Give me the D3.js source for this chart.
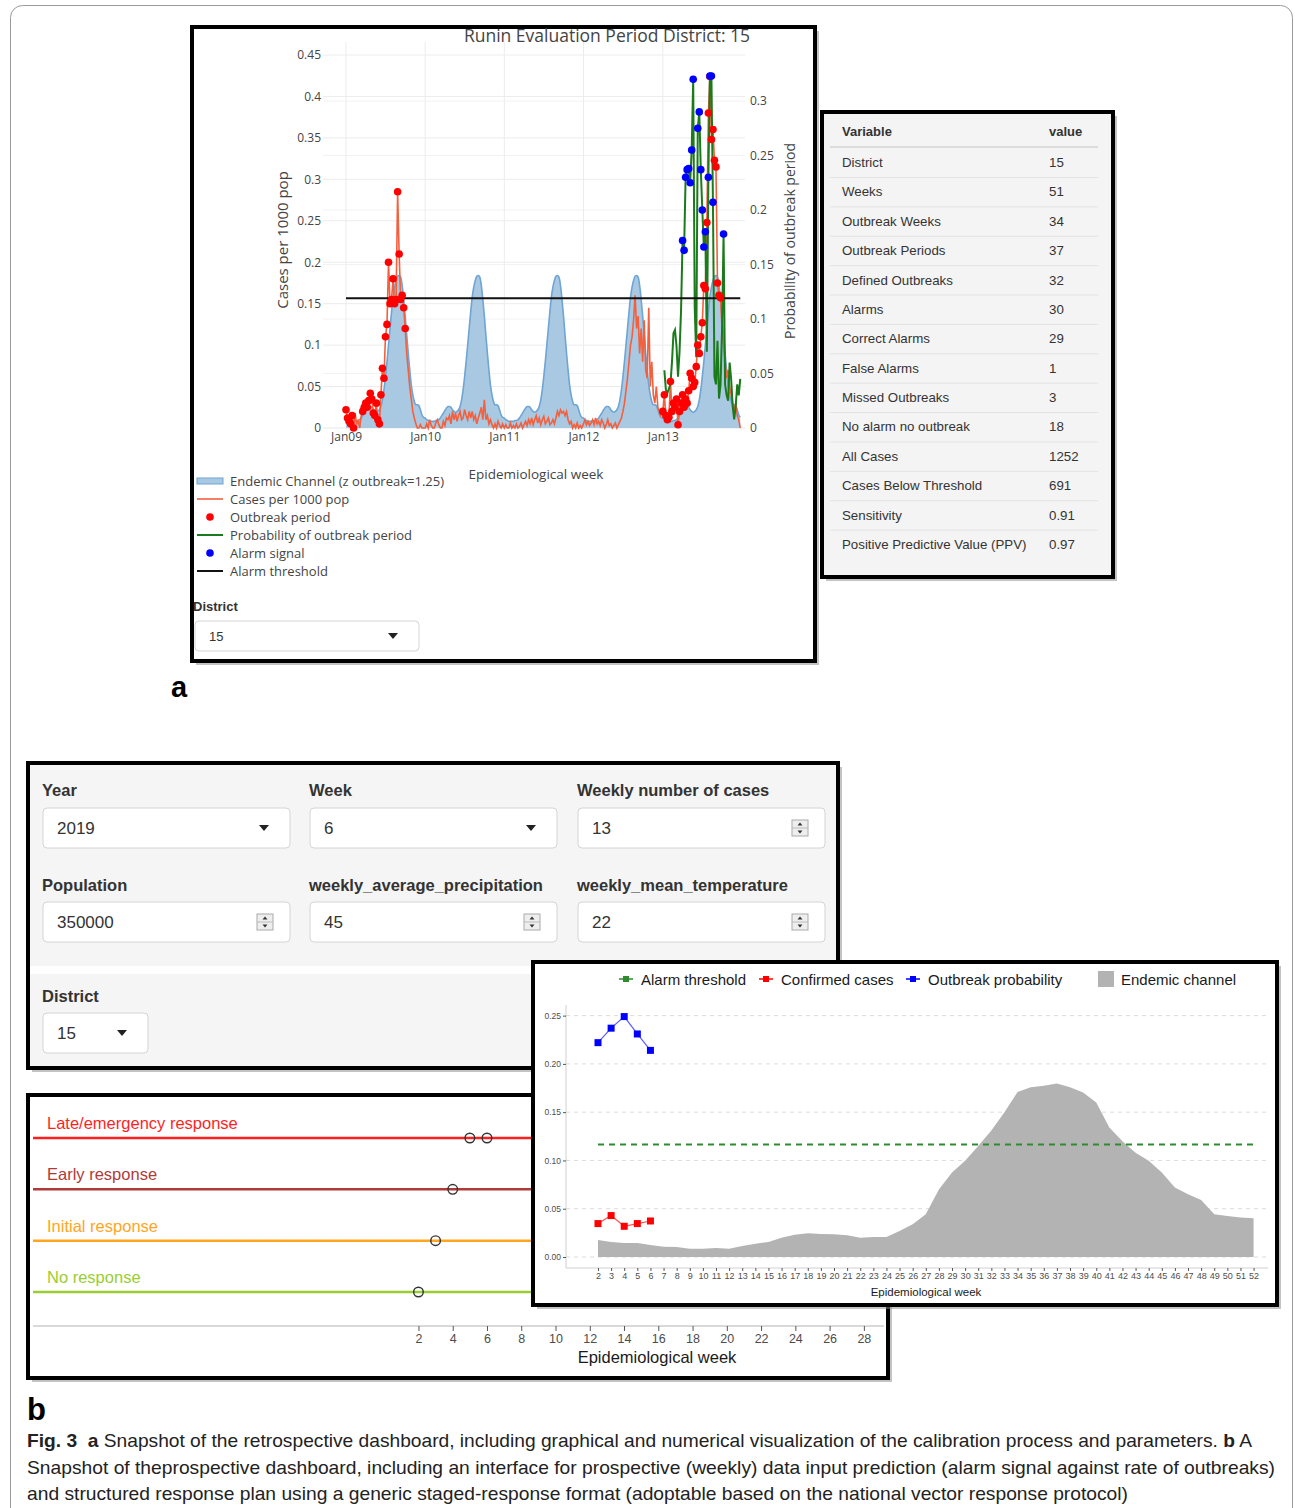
<!DOCTYPE html>
<html>
<head>
<meta charset="utf-8">
<script src="https://cdn.jsdelivr.net/npm/d3@7"></script>
<style>
  body { margin: 0; background: #fff; }
  svg { display: block; }
</style>
</head>
<body>
<svg id="fig" width="1295" height="1508"></svg>
<script>
// ---------- panel a : retrospective dashboard ----------
const years = [2009, 2010, 2011, 2012, 2013];

// endemic channel, one value per epidemiological week (same seasonal channel every year)
const endemicWeekly = [0.012, 0.010, 0.009, 0.008, 0.008, 0.008, 0.008, 0.009, 0.009, 0.010,
  0.012, 0.015, 0.018, 0.021, 0.024, 0.026, 0.026, 0.025, 0.022, 0.020,
  0.019, 0.020, 0.022, 0.026, 0.034, 0.046, 0.062, 0.080, 0.100, 0.120,
  0.140, 0.158, 0.170, 0.178, 0.183, 0.184, 0.182, 0.172, 0.155, 0.135,
  0.112, 0.090, 0.070, 0.052, 0.040, 0.032, 0.028, 0.028, 0.027, 0.022,
  0.016, 0.013];

// cases per 1000 pop, weekly
const cases2009 = [0.022, 0.012, 0.008, 0.005, 0.015, 0.0, 0.018, 0.004, 0.01, 0.0,
  0.015, 0.02, 0.025, 0.03, 0.025, 0.033, 0.042, 0.035, 0.018, 0.015,
  0.03, 0.01, 0.005, 0.04, 0.072, 0.06, 0.11, 0.125, 0.2, 0.15,
  0.155, 0.18, 0.15, 0.155, 0.285, 0.21, 0.155, 0.16, 0.145, 0.12,
  0.09, 0.07, 0.05, 0.035, 0.02, 0.012, 0.005, 0.0, 0.0, 0.004, 0.0, 0.0];
const cases2010 = [0.0, 0.005, 0.0, 0.01, 0.003, 0.0, 0.0, 0.006, 0.01, 0.004,
  0.0, 0.0, 0.008, 0.003, 0.012, 0.01, 0.015, 0.005, 0.02, 0.01,
  0.018, 0.008, 0.015, 0.02, 0.01, 0.012, 0.022, 0.015, 0.01, 0.02,
  0.012, 0.02, 0.01, 0.015, 0.005, 0.012, 0.018, 0.025, 0.01, 0.034,
  0.01, 0.015, 0.005, 0.01, 0.004, 0.0, 0.005, 0.0, 0.008, 0.003, 0.0, 0.005];
const cases2011 = [0.0, 0.004, 0.0, 0.0, 0.006, 0.0, 0.003, 0.0, 0.005, 0.0,
  0.002, 0.006, 0.0, 0.004, 0.008, 0.003, 0.01, 0.005, 0.012, 0.004,
  0.01, 0.015, 0.006, 0.012, 0.004, 0.01, 0.014, 0.005, 0.008, 0.012,
  0.004, 0.006, 0.01, 0.005, 0.012, 0.02, 0.015, 0.022, 0.018, 0.02,
  0.015, 0.02, 0.01, 0.005, 0.008, 0.0, 0.004, 0.0, 0.006, 0.0, 0.003, 0.0];
const cases2012 = [0.005, 0.01, 0.004, 0.008, 0.003, 0.006, 0.01, 0.004, 0.012, 0.005,
  0.008, 0.003, 0.01, 0.006, 0.0, 0.004, 0.01, 0.003, 0.005, 0.0,
  0.003, 0.006, 0.0, 0.004, 0.008, 0.012, 0.02, 0.03, 0.045, 0.06,
  0.08, 0.1, 0.11, 0.13, 0.16, 0.12, 0.135, 0.09, 0.12, 0.08,
  0.13, 0.07, 0.06, 0.145, 0.05, 0.08, 0.04, 0.03, 0.05, 0.025, 0.02, 0.015];
const cases2013 = [0.02, 0.04, 0.015, 0.01, 0.013, 0.056, 0.02, 0.03, 0.025, 0.035,
  0.004, 0.02, 0.03, 0.04, 0.025, 0.035, 0.03, 0.045, 0.066, 0.06,
  0.05, 0.055, 0.074, 0.1, 0.09, 0.11, 0.127, 0.172, 0.168, 0.248,
  0.38, 0.424, 0.348, 0.36, 0.323, 0.315, 0.175, 0.16, 0.157, 0.12,
  0.1, 0.08, 0.06, 0.07, 0.05, 0.04, 0.03, 0.02, 0.03, 0.015, 0.01, 0.0];

// probability of outbreak period (right axis), only computed for 2013
const prob2013 = [null, 0.053, 0.035, 0.032, 0.036, 0.04, 0.06, 0.087, 0.09, 0.075,
  0.047, 0.07, 0.108, 0.172, 0.163, 0.23, 0.237, 0.238, 0.225, 0.255,
  0.32, 0.11, 0.065, 0.275, 0.29, 0.237, 0.2, 0.166, 0.18, 0.07,
  0.23, 0.323, 0.323, 0.207, 0.047, 0.04, 0.08, 0.027, 0.04, 0.09,
  0.178, 0.04, 0.03, 0.025, 0.06, 0.045, 0.02, 0.008, 0.02, 0.04, 0.03, 0.045];

// outbreak periods: [year, first week, last week]
const outbreakPeriods = [[2009, 1, 6], [2009, 12, 40], [2013, 1, 39]];
const alarmThreshold = 0.119;

const leftTicks = [0, 0.05, 0.1, 0.15, 0.2, 0.25, 0.3, 0.35, 0.4, 0.45];
const rightTicks = [0, 0.05, 0.1, 0.15, 0.2, 0.25, 0.3];

const legendA = ["Endemic Channel (z outbreak=1.25)", "Cases per 1000 pop", "Outbreak period",
  "Probability of outbreak period", "Alarm signal", "Alarm threshold"];

const tableVars = ["District", "Weeks", "Outbreak Weeks", "Outbreak Periods", "Defined Outbreaks",
  "Alarms", "Correct Alarms", "False Alarms", "Missed Outbreaks", "No alarm no outbreak",
  "All Cases", "Cases Below Threshold", "Sensitivity", "Positive Predictive Value (PPV)"];
const tableVals = ["15", "51", "34", "37", "32", "30", "29", "1", "3", "18", "1252", "691", "0.91", "0.97"];

// ---------- panel b : prospective dashboard ----------
const formLabels = [["Year", "Week", "Weekly number of cases"],
  ["Population", "weekly_average_precipitation", "weekly_mean_temperature"]];
const formValues = [["2019", "6", "13"], ["350000", "45", "22"]];
const formKinds = [["select", "select", "number"], ["number", "number", "number"]];

const bWeeks = [2, 3, 4, 5, 6, 7, 8, 9, 10, 11, 12, 13, 14, 15, 16, 17, 18, 19, 20, 21, 22, 23, 24, 25, 26,
  27, 28, 29, 30, 31, 32, 33, 34, 35, 36, 37, 38, 39, 40, 41, 42, 43, 44, 45, 46, 47, 48, 49, 50, 51, 52];
const bEndemic = [0.0176, 0.0156, 0.0145, 0.0145, 0.0125, 0.0107, 0.0104, 0.0086, 0.0086, 0.0093,
  0.0086, 0.0114, 0.0138, 0.0156, 0.0200, 0.0230, 0.0245, 0.0239, 0.0235, 0.0225,
  0.0200, 0.0207, 0.0207, 0.0270, 0.0340, 0.0443, 0.0700, 0.0875, 0.0996, 0.1150,
  0.1310, 0.1500, 0.1710, 0.1757, 0.1774, 0.1798, 0.1757, 0.1705, 0.1600, 0.1340,
  0.1200, 0.1080, 0.0996, 0.0875, 0.0719, 0.0650, 0.0590, 0.0443, 0.0425, 0.0408, 0.0401];
const predWeeks = [2, 3, 4, 5, 6];
const confirmedCases = [0.0346, 0.0429, 0.0318, 0.0346, 0.0373];
const outbreakProb = [0.222, 0.237, 0.249, 0.231, 0.214];
const bThreshold = 0.1165;
const bTicks = [0, 0.05, 0.10, 0.15, 0.20, 0.25];
const bLegend = ["Alarm threshold", "Confirmed cases", "Outbreak probability", "Endemic channel"];

const responseLevels = ["Late/emergency response", "Early response", "Initial response", "No response"];
const responseWeek = [2, 3, 4, 5, 6];
const responseOf = ["No response", "Initial response", "Early response", "Late/emergency response", "Late/emergency response"];
const responseTicks = [2, 4, 6, 8, 10, 12, 14, 16, 18, 20, 22, 24, 26, 28];

const captionLines = [
  [["Fig. 3", true], ["  ", false], ["a", true], [" Snapshot of the retrospective dashboard, including graphical and numerical visualization of the calibration process and parameters. ", false], ["b", true], [" A", false]],
  [["Snapshot of theprospective dashboard, including an interface for prospective (weekly) data input prediction (alarm signal against rate of outbreaks)", false]],
  [["and structured response plan using a generic staged-response format (adoptable based on the national vector response protocol)", false]]
];

// ---------- drawing ----------
const svg = d3.select("#fig");
const PLOTLY = "'Open Sans', 'DejaVu Sans', sans-serif";
const HELV = "'Liberation Sans', Arial, sans-serif";

// thin outer frame of the figure page
svg.append("rect").attr("x", 10.5).attr("y", 5.5).attr("width", 1282).attr("height", 1530)
  .attr("rx", 12).attr("fill", "none").attr("stroke", "#9a9a9a").attr("stroke-width", 1);

function box(x, y, w, h, fill) {
  svg.append("rect").attr("x", x + 4).attr("y", y + 4).attr("width", w).attr("height", h)
    .attr("fill", "#888").attr("opacity", 0.5);
  svg.append("rect").attr("x", x).attr("y", y).attr("width", w).attr("height", h)
    .attr("fill", fill).attr("stroke", "#000").attr("stroke-width", 4);
}

// ===== panel a plot =====
box(192, 27, 623, 634, "#fff");
const gA = svg.append("g");
const wk = (yr, w) => new Date(yr, 0, 1 + 7 * (w - 1));
const xA = d3.scaleTime().domain([new Date(2009, 0, 1), new Date(2014, 0, 1)]).range([346, 742]);
const yL = d3.scaleLinear().domain([0, 0.45]).range([428, 55]);
const yR = d3.scaleLinear().domain([0, 0.3]).range([428, 101]);
const plotL = 323, plotR = 745, plotT = 42, plotB = 428;

// grid
gA.append("g").selectAll("line").data(leftTicks).join("line")
  .attr("x1", plotL).attr("x2", plotR).attr("y1", d => yL(d)).attr("y2", d => yL(d))
  .attr("stroke", "#ececec");
gA.append("g").selectAll("line").data(rightTicks).join("line")
  .attr("x1", plotL).attr("x2", plotR).attr("y1", d => yR(d)).attr("y2", d => yR(d))
  .attr("stroke", "#f2f2f2");
const yearStarts = years.map(y => new Date(y, 0, 1));
gA.append("g").selectAll("line").data(yearStarts).join("line")
  .attr("x1", d => xA(d)).attr("x2", d => xA(d)).attr("y1", plotT).attr("y2", plotB)
  .attr("stroke", "#ececec");

const casesByYear = [cases2009, cases2010, cases2011, cases2012, cases2013];
const caseSeries = years.flatMap((yr, i) => casesByYear[i].map((v, j) => ({ date: wk(yr, j + 1), yr: yr, w: j + 1, v: v })));
const endemicSeries = years.flatMap(yr => endemicWeekly.map((v, j) => ({ date: wk(yr, j + 1), v: v })));
const probSeries = prob2013.map((v, j) => ({ date: wk(2013, j + 1), v: v })).filter(d => d.v !== null);

gA.append("path").datum(endemicSeries)
  .attr("d", d3.area().x(d => xA(d.date)).y0(yL(0)).y1(d => yL(d.v)).curve(d3.curveMonotoneX))
  .attr("fill", "#a9c8e2");
gA.append("path").datum(endemicSeries)
  .attr("d", d3.line().x(d => xA(d.date)).y(d => yL(d.v)).curve(d3.curveMonotoneX))
  .attr("fill", "none").attr("stroke", "#6ea5d4").attr("stroke-width", 1.6);

gA.append("path").datum(caseSeries)
  .attr("d", d3.line().x(d => xA(d.date)).y(d => yL(d.v)))
  .attr("fill", "none").attr("stroke", "#f2603e").attr("stroke-width", 1.6);

gA.append("path").datum(probSeries)
  .attr("d", d3.line().x(d => xA(d.date)).y(d => yR(d.v)))
  .attr("fill", "none").attr("stroke", "#1b7a1b").attr("stroke-width", 2);

gA.append("line")
  .attr("x1", xA(wk(2009, 1))).attr("x2", xA(wk(2013, 52)))
  .attr("y1", yR(alarmThreshold)).attr("y2", yR(alarmThreshold))
  .attr("stroke", "#111").attr("stroke-width", 2);

const inOutbreak = d => outbreakPeriods.some(p => p[0] === d.yr && d.w >= p[1] && d.w <= p[2]);
gA.append("g").selectAll("circle").data(caseSeries.filter(inOutbreak)).join("circle")
  .attr("cx", d => xA(d.date)).attr("cy", d => yL(d.v)).attr("r", 3.8).attr("fill", "#ff0000");
gA.append("g").selectAll("circle").data(probSeries.filter(d => d.v >= alarmThreshold)).join("circle")
  .attr("cx", d => xA(d.date)).attr("cy", d => yR(d.v)).attr("r", 3.8).attr("fill", "#0000ff");

// axes
function styleAxis(g, size) {
  g.select(".domain").remove();
  g.selectAll("text").attr("fill", "#444").attr("font-family", PLOTLY).attr("font-size", size);
}
gA.append("g").attr("transform", `translate(${plotL},0)`)
  .call(d3.axisLeft(yL).tickValues(leftTicks).tickSize(0).tickPadding(2).tickFormat(d3.format("~g")))
  .call(g => styleAxis(g, 12));
gA.append("g").attr("transform", `translate(${plotR},0)`)
  .call(d3.axisRight(yR).tickValues(rightTicks).tickSize(0).tickPadding(5).tickFormat(d3.format("~g")))
  .call(g => styleAxis(g, 12));
gA.append("g").attr("transform", `translate(0,${plotB})`)
  .call(d3.axisBottom(xA).tickValues(yearStarts).tickSize(0).tickPadding(4).tickFormat(d3.timeFormat("%b%y")))
  .call(g => styleAxis(g, 12));

gA.append("text").attr("x", 607).attr("y", 42).attr("text-anchor", "middle")
  .attr("font-family", PLOTLY).attr("font-size", 17.5).attr("fill", "#444")
  .text("Runin Evaluation Period District: 15");
gA.append("text").attr("transform", "translate(288,240) rotate(-90)").attr("text-anchor", "middle")
  .attr("font-family", PLOTLY).attr("font-size", 15).attr("fill", "#444").text("Cases per 1000 pop");
gA.append("text").attr("transform", "translate(795,241) rotate(-90)").attr("text-anchor", "middle")
  .attr("font-family", PLOTLY).attr("font-size", 14).attr("fill", "#444").text("Probability of outbreak period");
gA.append("text").attr("x", 536).attr("y", 479).attr("text-anchor", "middle")
  .attr("font-family", PLOTLY).attr("font-size", 13.5).attr("fill", "#444").text("Epidemiological week");

// legend
const legG = gA.append("g").selectAll("g").data(legendA).join("g")
  .attr("transform", (d, i) => `translate(197,${481 + i * 18})`);
legG.append("text").attr("x", 33).attr("y", 4.5).attr("font-family", PLOTLY).attr("font-size", 13)
  .attr("fill", "#444").text(d => d);
legG.each(function (d, i) {
  const g = d3.select(this);
  if (i === 0) g.append("rect").attr("x", 0).attr("y", -3).attr("width", 26).attr("height", 6)
    .attr("fill", "#a9c8e2").attr("stroke", "#6ea5d4").attr("stroke-width", 1);
  if (i === 1) g.append("line").attr("x2", 26).attr("stroke", "#f2603e").attr("stroke-width", 1.6);
  if (i === 2) g.append("circle").attr("cx", 13).attr("r", 3.8).attr("fill", "#ff0000");
  if (i === 3) g.append("line").attr("x2", 26).attr("stroke", "#1b7a1b").attr("stroke-width", 2);
  if (i === 4) g.append("circle").attr("cx", 13).attr("r", 3.8).attr("fill", "#0000ff");
  if (i === 5) g.append("line").attr("x2", 26).attr("stroke", "#111").attr("stroke-width", 2);
});

// district selector under the plot
function selectBox(x, y, w, h, value, size) {
  svg.append("rect").attr("x", x).attr("y", y).attr("width", w).attr("height", h).attr("rx", 4)
    .attr("fill", "#fff").attr("stroke", "#d4d4d4");
  svg.append("text").attr("x", x + 14).attr("y", y + h / 2 + size * 0.36).attr("font-family", HELV)
    .attr("font-size", size).attr("fill", "#333").text(value);
  const cx = x + w - 26, cy = y + h / 2;
  svg.append("path").attr("d", `M${cx - 5},${cy - 3}L${cx + 5},${cy - 3}L${cx},${cy + 3}Z`).attr("fill", "#222");
}
function numberBox(x, y, w, h, value, size) {
  svg.append("rect").attr("x", x).attr("y", y).attr("width", w).attr("height", h).attr("rx", 4)
    .attr("fill", "#fff").attr("stroke", "#d4d4d4");
  svg.append("text").attr("x", x + 14).attr("y", y + h / 2 + size * 0.36).attr("font-family", HELV)
    .attr("font-size", size).attr("fill", "#333").text(value);
  const sx = x + w - 33, sy = y + h / 2 - 8;
  svg.append("rect").attr("x", sx).attr("y", sy).attr("width", 16).attr("height", 16)
    .attr("fill", "#eee").attr("stroke", "#aaa");
  svg.append("line").attr("x1", sx).attr("x2", sx + 16).attr("y1", sy + 8).attr("y2", sy + 8).attr("stroke", "#bbb");
  svg.append("path").attr("d", `M${sx + 5.5},${sy + 5.5}L${sx + 10.5},${sy + 5.5}L${sx + 8},${sy + 2.5}Z`).attr("fill", "#333");
  svg.append("path").attr("d", `M${sx + 5.5},${sy + 10.5}L${sx + 10.5},${sy + 10.5}L${sx + 8},${sy + 13.5}Z`).attr("fill", "#333");
}
svg.append("text").attr("x", 193).attr("y", 611).attr("font-family", HELV).attr("font-weight", "bold")
  .attr("font-size", 13).attr("fill", "#333").text("District");
selectBox(195, 621, 224, 30, "15", 13);

svg.append("text").attr("x", 171).attr("y", 697).attr("font-family", HELV).attr("font-weight", "bold")
  .attr("font-size", 29).attr("fill", "#000").text("a");

// ===== results table =====
box(822, 112, 291, 465, "#f4f4f4");
svg.append("text").attr("x", 842).attr("y", 136).attr("font-family", HELV).attr("font-weight", "bold")
  .attr("font-size", 13).attr("fill", "#333").text("Variable");
svg.append("text").attr("x", 1049).attr("y", 136).attr("font-family", HELV).attr("font-weight", "bold")
  .attr("font-size", 13).attr("fill", "#333").text("value");
svg.append("line").attr("x1", 830).attr("x2", 1098).attr("y1", 147).attr("y2", 147)
  .attr("stroke", "#dcdcdc").attr("stroke-width", 2);
const rowY = d3.scaleLinear().domain([0, 13]).range([167, 549]);
const rows = svg.append("g").selectAll("g").data(tableVars).join("g");
rows.append("text").attr("x", 842).attr("y", (d, i) => rowY(i)).attr("font-family", HELV)
  .attr("font-size", 13.3).attr("fill", "#333").text(d => d);
rows.append("text").attr("x", 1049).attr("y", (d, i) => rowY(i)).attr("font-family", HELV)
  .attr("font-size", 13.3).attr("fill", "#333").text((d, i) => tableVals[i]);
rows.filter((d, i) => i < tableVars.length - 1).append("line")
  .attr("x1", 830).attr("x2", 1098).attr("y1", (d, i) => rowY(i) + 10.5).attr("y2", (d, i) => rowY(i) + 10.5)
  .attr("stroke", "#e2e2e2");

// ===== panel b input form =====
box(28, 763, 810, 305, "#f5f5f5");
svg.append("rect").attr("x", 30).attr("y", 966).attr("width", 806).attr("height", 8).attr("fill", "#fff");
const colX = [43, 310, 578];
formLabels.forEach((row, r) => {
  row.forEach((lab, c) => {
    const ly = r === 0 ? 796 : 891, by = r === 0 ? 808 : 902;
    svg.append("text").attr("x", colX[c] - 1).attr("y", ly).attr("font-family", HELV).attr("font-weight", "bold")
      .attr("font-size", 16.5).attr("fill", "#333").text(lab);
    if (formKinds[r][c] === "select") selectBox(colX[c], by, 247, 40, formValues[r][c], 17);
    else numberBox(colX[c], by, 247, 40, formValues[r][c], 17);
  });
});
svg.append("text").attr("x", 42).attr("y", 1002).attr("font-family", HELV).attr("font-weight", "bold")
  .attr("font-size", 16.5).attr("fill", "#333").text("District");
selectBox(43, 1013, 105, 40, "15", 17);

// ===== response plan =====
box(28, 1095, 860, 283, "#fff");
const xRsp = d3.scaleLinear().domain([-20.5, 29]).range([33, 881]);
const yRsp = d3.scalePoint().domain(responseLevels).range([1138, 1292]);
const rspColor = d3.scaleOrdinal().domain(responseLevels).range(["#ff1f1f", "#b03a3a", "#ffa51e", "#9acd32"]);
const gR = svg.append("g");
gR.selectAll("line.lvl").data(responseLevels).join("line").attr("class", "lvl")
  .attr("x1", 33).attr("x2", 884).attr("y1", d => yRsp(d)).attr("y2", d => yRsp(d))
  .attr("stroke", d => rspColor(d)).attr("stroke-width", 2.5);
gR.selectAll("text.lvl").data(responseLevels).join("text").attr("class", "lvl")
  .attr("x", 47).attr("y", d => yRsp(d) - 9).attr("font-family", HELV).attr("font-size", 16.5)
  .attr("fill", d => rspColor(d)).text(d => d);
gR.selectAll("circle").data(responseWeek).join("circle")
  .attr("cx", d => xRsp(d)).attr("cy", (d, i) => yRsp(responseOf[i])).attr("r", 4.8)
  .attr("fill", "none").attr("stroke", "#333").attr("stroke-width", 1.4);
gR.append("g").attr("transform", "translate(0,1326)")
  .call(d3.axisBottom(xRsp).tickValues(responseTicks).tickSize(5).tickPadding(3))
  .call(g => {
    g.select(".domain").attr("d", "M33,0H884").attr("stroke", "#d9d9d9").attr("stroke-width", 2);
    g.selectAll(".tick line").attr("stroke", "#555");
    g.selectAll("text").attr("fill", "#4d4d4d").attr("font-family", HELV).attr("font-size", 12.5);
  });
gR.append("text").attr("x", 657).attr("y", 1363).attr("text-anchor", "middle").attr("font-family", HELV)
  .attr("font-size", 16.5).attr("fill", "#1a1a1a").text("Epidemiological week");

// ===== panel b prediction chart =====
box(533, 962, 744, 343, "#fff");
const xB = d3.scaleLinear().domain([-0.44, 53.1]).range([566, 1268]);
const yB = d3.scaleLinear().domain([-0.0114, 0.261]).range([1268, 1005]);
const gB = svg.append("g");
gB.append("g").selectAll("line").data(bTicks).join("line")
  .attr("x1", 566).attr("x2", 1268).attr("y1", d => yB(d)).attr("y2", d => yB(d))
  .attr("stroke", "#dcdcdc").attr("stroke-dasharray", "4,4");
gB.append("path").datum(bWeeks.map((w, i) => [w, bEndemic[i]]))
  .attr("d", d3.area().x(d => xB(d[0])).y0(yB(0)).y1(d => yB(d[1])))
  .attr("fill", "#b3b3b3");
gB.append("line").attr("x1", xB(bWeeks[0])).attr("x2", xB(bWeeks[bWeeks.length - 1]))
  .attr("y1", yB(bThreshold)).attr("y2", yB(bThreshold))
  .attr("stroke", "#2e8b2e").attr("stroke-width", 2).attr("stroke-dasharray", "6,5");
function sqSeries(vals, line, fill) {
  const pts = predWeeks.map((w, i) => [w, vals[i]]);
  gB.append("path").datum(pts).attr("d", d3.line().x(d => xB(d[0])).y(d => yB(d[1])))
    .attr("fill", "none").attr("stroke", line).attr("stroke-width", 1.2);
  gB.append("g").selectAll("rect").data(pts).join("rect")
    .attr("x", d => xB(d[0]) - 3.5).attr("y", d => yB(d[1]) - 3.5).attr("width", 7).attr("height", 7).attr("fill", fill);
}
sqSeries(confirmedCases, "#ff5555", "#ff0000");
sqSeries(outbreakProb, "#5b5bff", "#0000ff");
gB.append("g").attr("transform", "translate(566,0)")
  .call(d3.axisLeft(yB).tickValues(bTicks).tickSize(3).tickPadding(2).tickFormat(d3.format(".2f")))
  .call(g => {
    g.select(".domain").attr("d", "M0,1005V1268").attr("stroke", "#d0d0d0");
    g.selectAll(".tick line").attr("stroke", "#555");
    g.selectAll("text").attr("fill", "#4d4d4d").attr("font-family", HELV).attr("font-size", 8.5);
  });
gB.append("g").attr("transform", "translate(0,1268)")
  .call(d3.axisBottom(xB).tickValues(bWeeks).tickSize(3).tickPadding(2))
  .call(g => {
    g.select(".domain").attr("d", "M566,0H1268").attr("stroke", "#d0d0d0");
    g.selectAll(".tick line").attr("stroke", "#555");
    g.selectAll("text").attr("fill", "#4d4d4d").attr("font-family", HELV).attr("font-size", 9);
  });
gB.append("text").attr("x", 926).attr("y", 1296).attr("text-anchor", "middle").attr("font-family", HELV)
  .attr("font-size", 11.5).attr("fill", "#1a1a1a").text("Epidemiological week");
// legend
const bLegX = [641, 781, 928, 1121];
const bLegCol = ["#2e8b2e", "#ff0000", "#0000ff", "#b3b3b3"];
bLegend.forEach((t, i) => {
  if (i < 3) {
    gB.append("line").attr("x1", bLegX[i] - 22).attr("x2", bLegX[i] - 8).attr("y1", 979).attr("y2", 979)
      .attr("stroke", bLegCol[i]).attr("stroke-width", 1.5);
    gB.append("rect").attr("x", bLegX[i] - 18).attr("y", 976).attr("width", 6).attr("height", 6).attr("fill", bLegCol[i]);
  } else {
    gB.append("rect").attr("x", bLegX[i] - 23).attr("y", 971).attr("width", 16).attr("height", 16).attr("fill", bLegCol[i]);
  }
  gB.append("text").attr("x", bLegX[i]).attr("y", 984.5).attr("font-family", HELV).attr("font-size", 15)
    .attr("fill", "#1a1a1a").text(t);
});

// ===== labels and caption =====
svg.append("text").attr("x", 27).attr("y", 1420).attr("font-family", HELV).attr("font-weight", "bold")
  .attr("font-size", 31).attr("fill", "#000").text("b");
const capWidths = [1225, 1248, 1101];
captionLines.forEach((parts, i) => {
  const t = svg.append("text").attr("x", 27).attr("y", 1447 + i * 26.5)
    .attr("font-family", "'Liberation Sans Narrow', 'Arial Narrow', 'Liberation Sans', sans-serif")
    .attr("font-size", 19).attr("fill", "#222")
    .attr("textLength", capWidths[i]).attr("lengthAdjust", "spacingAndGlyphs")
    .attr("xml:space", "preserve").style("white-space", "pre");
  parts.forEach(p => t.append("tspan").attr("font-weight", p[1] ? "bold" : "normal").text(p[0]));
});
</script>
</body>
</html>
